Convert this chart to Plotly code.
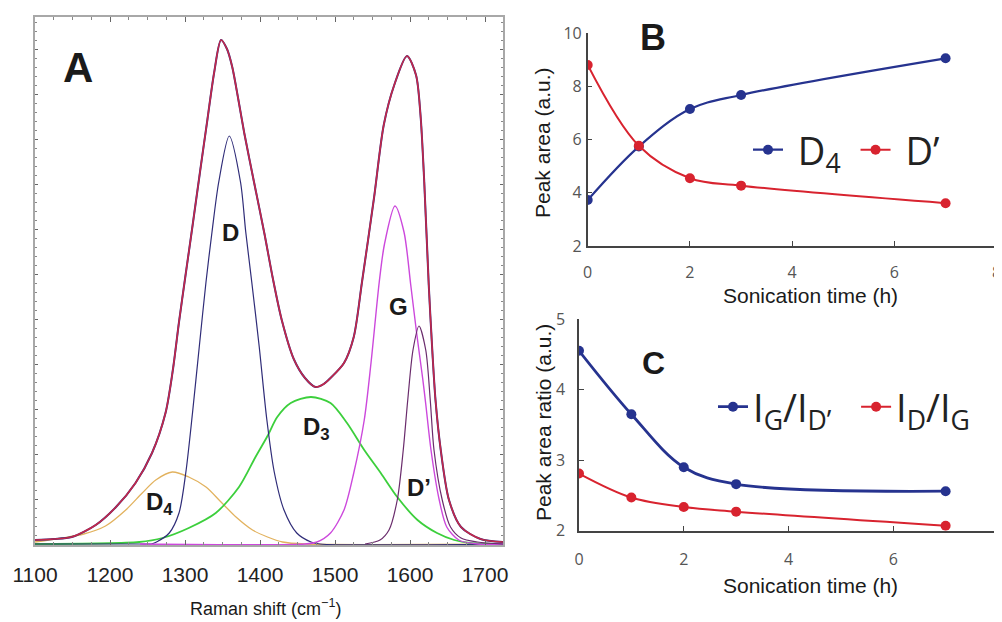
import plotly.graph_objects as go

# ---------------- Panel A: Raman spectrum deconvolution ----------------
shift_env = [1100, 1125, 1149, 1181, 1208, 1234, 1256, 1274, 1284, 1292, 1300, 1310, 1320, 1330,
             1339, 1348, 1356, 1363, 1371, 1379, 1392, 1406, 1417, 1429, 1445, 1460, 1474, 1485,
             1494, 1512, 1525, 1536, 1552, 1565, 1579, 1596, 1608, 1614, 1619, 1625, 1630, 1634,
             1641, 1652, 1668, 1694, 1724]
int_env = [4, 5, 7, 19, 37, 61, 91, 131, 175, 222, 265, 318, 372, 425,
           472, 504, 495, 477, 445, 411, 362, 310, 266, 224, 185, 166, 157, 160,
           166, 181, 207, 262, 346, 419, 459, 488, 469, 429, 362, 259, 190, 144,
           94, 44, 17, 5, 2]

shift_D = [1100, 1240, 1255, 1262, 1279, 1292, 1301, 1310, 1319, 1328, 1336, 1345, 1359, 1374,
           1381, 1389, 1399, 1409, 1419, 1432, 1449, 1468, 1480, 1724]
int_D = [0, 0, 0, 2, 11, 31, 71, 131, 197, 262, 312, 362, 408, 362,
         312, 262, 197, 125, 72, 34, 11, 2, 0, 0]

shift_D4 = [1100, 1136, 1165, 1194, 1221, 1243, 1261, 1283, 1305, 1328, 1348, 1368, 1390, 1410,
            1430, 1460, 1724]
int_D4 = [2, 6, 10, 18, 34, 51, 64, 72, 67, 57, 42, 27, 14, 7, 2, 0, 0]

shift_D3 = [1100, 1239, 1270, 1305, 1341, 1372, 1394, 1410, 1423, 1441, 1468, 1494, 1516, 1539,
            1561, 1583, 1610, 1636, 1659, 1680, 1724]
int_D3 = [0, 2, 6, 16, 31, 57, 87, 108, 127, 141, 147, 141, 121, 94,
          71, 47, 24, 11, 4, 1, 0]

shift_G = [1240, 1460, 1476, 1494, 1512, 1525, 1539, 1548, 1559, 1566, 1580, 1592, 1601, 1609,
           1617, 1621, 1628, 1639, 1649, 1665, 1690, 1724]
int_G = [0, 0, 2, 11, 34, 71, 124, 181, 262, 300, 338, 312, 259, 210,
         165, 140, 94, 44, 17, 4, 0, 0]

shift_Dp = [1540, 1560, 1572, 1583, 1591, 1597, 1604, 1612, 1621, 1627, 1632, 1643, 1654, 1668,
            1690, 1724]
int_Dp = [0, 4, 14, 44, 94, 144, 194, 218, 194, 144, 94, 44, 17, 6, 2, 0]

raman_ticks = [1100, 1200, 1300, 1400, 1500, 1600, 1700]

# ---------------- Panels B and C ----------------
sonication_h = [0, 1, 2, 3, 7]
area_D4 = [3.73, 5.74, 7.15, 7.68, 9.06]
area_Dprime = [8.81, 5.77, 4.55, 4.27, 3.61]
ratio_IG_IDp = [4.55, 3.65, 2.90, 2.66, 2.56]
ratio_ID_IG = [2.81, 2.47, 2.335, 2.27, 2.07]

# The page body keeps its default 8 px margin, so the figure is drawn 8 px in
# from the window's top-left corner; size and place everything accordingly.
OFF = 8
W, H = 1002 - OFF, 622 - OFF


def px(x):
    return (x - OFF) / W


def py(y):
    return 1 - (y - OFF) / H


fig = go.Figure()

# Panel A traces
comp = [
    (shift_D4, int_D4, "#e2b25e", 1.3),
    (shift_D3, int_D3, "#3ccf3c", 1.8),
    (shift_D, int_D, "#2f2c78", 1.2),
    (shift_G, int_G, "#cc48dc", 1.4),
    (shift_Dp, int_Dp, "#6a2c6c", 1.2),
]
for xs, ys, col, w in comp:
    fig.add_trace(go.Scatter(x=xs, y=ys, mode="lines", line=dict(color=col, width=w, shape="spline", smoothing=0.8),
                             showlegend=False, xaxis="x", yaxis="y", hoverinfo="skip"))
fig.add_trace(go.Scatter(x=shift_env, y=int_env, mode="lines",
                         line=dict(color="#2c2a82", width=2.0, shape="spline", smoothing=0.8),
                         showlegend=False, xaxis="x", yaxis="y"))
fig.add_trace(go.Scatter(x=shift_env, y=int_env, mode="lines", opacity=0.9,
                         line=dict(color="#d42844", width=1.6, shape="spline", smoothing=0.8),
                         showlegend=False, xaxis="x", yaxis="y"))

BLUE = "#26338f"
RED = "#d8232f"
NB = "\u00a0"

# Panel B
fig.add_trace(go.Scatter(x=sonication_h, y=area_D4, mode="lines+markers", name=NB + "D<sub>4</sub>" + NB,
                         line=dict(color=BLUE, width=2.2, shape="spline"), marker=dict(size=10, color=BLUE),
                         xaxis="x2", yaxis="y2", legend="legend"))
fig.add_trace(go.Scatter(x=sonication_h, y=area_Dprime, mode="lines+markers", name=NB + "D’",
                         line=dict(color=RED, width=2, shape="spline"), marker=dict(size=10, color=RED),
                         xaxis="x2", yaxis="y2", legend="legend"))
# Panel C
fig.add_trace(go.Scatter(x=sonication_h, y=ratio_IG_IDp, mode="lines+markers",
                         name="I<sub>G</sub>/I<sub>D’</sub>" + NB * 2,
                         line=dict(color=BLUE, width=2.8, shape="spline"), marker=dict(size=10, color=BLUE),
                         xaxis="x3", yaxis="y3", legend="legend2"))
fig.add_trace(go.Scatter(x=sonication_h, y=ratio_ID_IG, mode="lines+markers",
                         name="I<sub>D</sub>/I<sub>G</sub>",
                         line=dict(color=RED, width=2, shape="spline"), marker=dict(size=10, color=RED),
                         xaxis="x3", yaxis="y3", legend="legend2"))

TICKFONT_A = dict(family="Liberation Sans, Arial", size=21, color="#222")
TICKFONT_R = dict(family="Open Sans, Liberation Sans", size=16, color="#555")

fig.update_layout(
    width=W, height=H, margin=dict(l=0, r=0, t=0, b=0, pad=0, autoexpand=False),
    paper_bgcolor="white", plot_bgcolor="white",
    xaxis=dict(domain=[px(35), px(503)], range=[1100, 1724], tickvals=raman_ticks, anchor="y",
               showline=True, linecolor="#a8a8a8", linewidth=1.5, mirror="allticks",
               ticks="inside", ticklen=5, tickcolor="#666", tickwidth=1,
               minor=dict(dtick=25, tick0=1100, ticks="inside", ticklen=3, tickcolor="#888"),
               tickfont=TICKFONT_A, ticklabelstandoff=10, showgrid=False, zeroline=False, automargin=False),
    yaxis=dict(domain=[py(545), py(17)], range=[-1, 527], showticklabels=False, anchor="x",
               showline=True, linecolor="#a8a8a8", linewidth=1.5, mirror="allticks",
               ticks="inside", ticklen=3, tickcolor="#666", dtick=45, tick0=0,
               minor=dict(dtick=9, ticks="inside", ticklen=2, tickcolor="#888"),
               showgrid=False, zeroline=False, automargin=False),
    xaxis2=dict(domain=[px(587.7), px(996.7)], range=[0, 8], dtick=2, tick0=0, anchor="y2",
                showline=True, linecolor="#444", linewidth=1.5, ticks="inside", ticklen=5, tickcolor="#444",
                tickfont=TICKFONT_R, ticklabelstandoff=11, showgrid=False, zeroline=False, automargin=False),
    yaxis2=dict(domain=[py(246), py(33.3)], range=[2, 10], dtick=2, tick0=2, anchor="x2",
                showline=True, linecolor="#444", linewidth=1.5, ticks="inside", ticklen=5, tickcolor="#444",
                tickfont=TICKFONT_R, ticklabelstandoff=1, showgrid=False, zeroline=False, automargin=False),
    xaxis3=dict(domain=[px(579), px(998)], range=[0, 8], dtick=2, tick0=0, anchor="y3",
                showline=True, linecolor="#444", linewidth=1.5, ticks="inside", ticklen=5, tickcolor="#444",
                tickfont=TICKFONT_R, ticklabelstandoff=13, showgrid=False, zeroline=False, automargin=False),
    yaxis3=dict(domain=[py(530.7), py(319)], range=[2, 5], dtick=1, tick0=2, anchor="x3",
                showline=True, linecolor="#444", linewidth=1.5, ticks="inside", ticklen=5, tickcolor="#444",
                tickfont=TICKFONT_R, ticklabelstandoff=9, showgrid=False, zeroline=False, automargin=False),
    legend=dict(orientation="h", x=px(748), y=py(150), xanchor="left", yanchor="middle",
                font=dict(family="Open Sans, Liberation Sans", size=38, color="#222"),
                bgcolor="rgba(0,0,0,0)", itemwidth=30, tracegroupgap=0),
    legend2=dict(orientation="h", x=px(713), y=py(407), xanchor="left", yanchor="middle",
                 font=dict(family="Open Sans, Liberation Sans", size=38, color="#222"),
                 bgcolor="rgba(0,0,0,0)", itemwidth=30, tracegroupgap=0),
    showlegend=True,
)

ann = []
def label(x, y, text, size, bold=True, family="Liberation Sans, Arial", angle=0, color="#1a1a1a"):
    ann.append(dict(x=px(x), y=py(y), xref="paper", yref="paper", text=("<b>%s</b>" % text) if bold else text,
                    showarrow=False, xanchor="center", yanchor="middle", textangle=angle,
                    font=dict(family=family, size=size, color=color)))

label(78, 67, "A", 42)
label(653, 37, "B", 36)
label(653, 363, "C", 32)
label(230, 233, "D", 24)
label(398, 306, "G", 24)
label(316, 428, "D<sub>3</sub>", 24)
label(419, 487, "D’", 24)
label(159, 503, "D<sub>4</sub>", 24)
label(265, 607, "Raman shift (cm<sup>−1</sup>)", 18, bold=False)
label(810, 295, "Sonication time (h)", 21, bold=False)
label(810, 585, "Sonication time (h)", 21, bold=False)
label(542, 143, "Peak area (a.u.)", 21, bold=False, angle=-90)
label(543, 423, "Peak area ratio (a.u.)", 21, bold=False, angle=-90)
fig.update_layout(annotations=ann)

fig.write_html("out.html")
